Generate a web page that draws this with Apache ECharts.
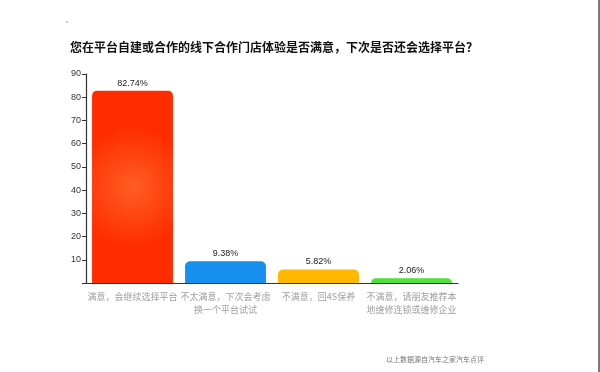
<!DOCTYPE html>
<html><head><meta charset="utf-8">
<script src="https://cdn.jsdelivr.net/npm/echarts@6/dist/echarts.min.js"></script>
<style>html,body{margin:0;padding:0;background:#fff;}#c{width:600px;height:372px;}</style>
</head><body><div id="c"></div>
<script>
var categories = ['满意，会继续选择平台', '不太满意，下次会考虑\n换一个平台试试', '不满意，回4S保养', '不满意，请朋友推荐本\n地维修连锁或维修企业'];
var values = [82.74, 9.38, 5.82, 2.06];
var yTicks = [0, 10, 20, 30, 40, 50, 60, 70, 80, 90];
var titleText = '您在平台自建或合作的线下合作门店体验是否满意，下次是否还会选择平台？';
var sourceText = '以上数据源自汽车之家汽车点评';

var colors = [
  {type:'radial', x:0.5, y:0.5, r:0.75, colorStops:[{offset:0,color:'#ff5e22'},{offset:1,color:'#ff2c00'}]},
  '#1690ee', '#ffb700', '#4ee23a'
];
var chart = echarts.init(document.getElementById('c'), null, {renderer:'canvas'});
chart.setOption({
  animation:false,
  title:{text:titleText, left:65, top:36, textStyle:{fontSize:12, fontWeight:'bold', color:'#111', fontFamily:'Noto Sans CJK SC'}},
  grid:{left:86, right:142, top:74, bottom:89, containLabel:false},
  xAxis:{type:'category', data:categories,
    axisLine:{lineStyle:{color:'#333', width:1.2}},
    axisTick:{alignWithLabel:true, length:5, lineStyle:{color:'#333'}},
    axisLabel:{color:'#a0a0a0', fontSize:9, interval:0, lineHeight:13, margin:7, fontFamily:'Noto Sans CJK SC'}},
  yAxis:{type:'value', min:0, max:90, interval:10,
    axisLine:{show:true, lineStyle:{color:'#333', width:1.2}},
    axisTick:{show:true, length:4, lineStyle:{color:'#333'}},
    splitLine:{show:false},
    axisLabel:{color:'#333', fontSize:9, margin:5, formatter:function(v){return v===0?'':v;}}},
  series:[{type:'bar', barCategoryGap:'13%',
    data:values.map(function(v,i){return {value:v, itemStyle:{color:colors[i], borderRadius:[5,5,0,0]}};}),
    label:{show:true, position:'top', fontSize:9, color:'#222', distance:3, formatter:function(p){return p.value.toFixed(2)+'%';}}
  }],
  graphic:[
    {type:'text', left:386, top:356, style:{text:sourceText, fontSize:7, fill:'#777', fontFamily:'Noto Sans CJK SC'}},
    {type:'line', shape:{x1:599,y1:0,x2:599,y2:372}, style:{stroke:'#222', lineWidth:1.2}},
    {type:'circle', shape:{cx:67, cy:22, r:0.8}, style:{fill:'#888'}}
  ]
});
</script></body></html>
